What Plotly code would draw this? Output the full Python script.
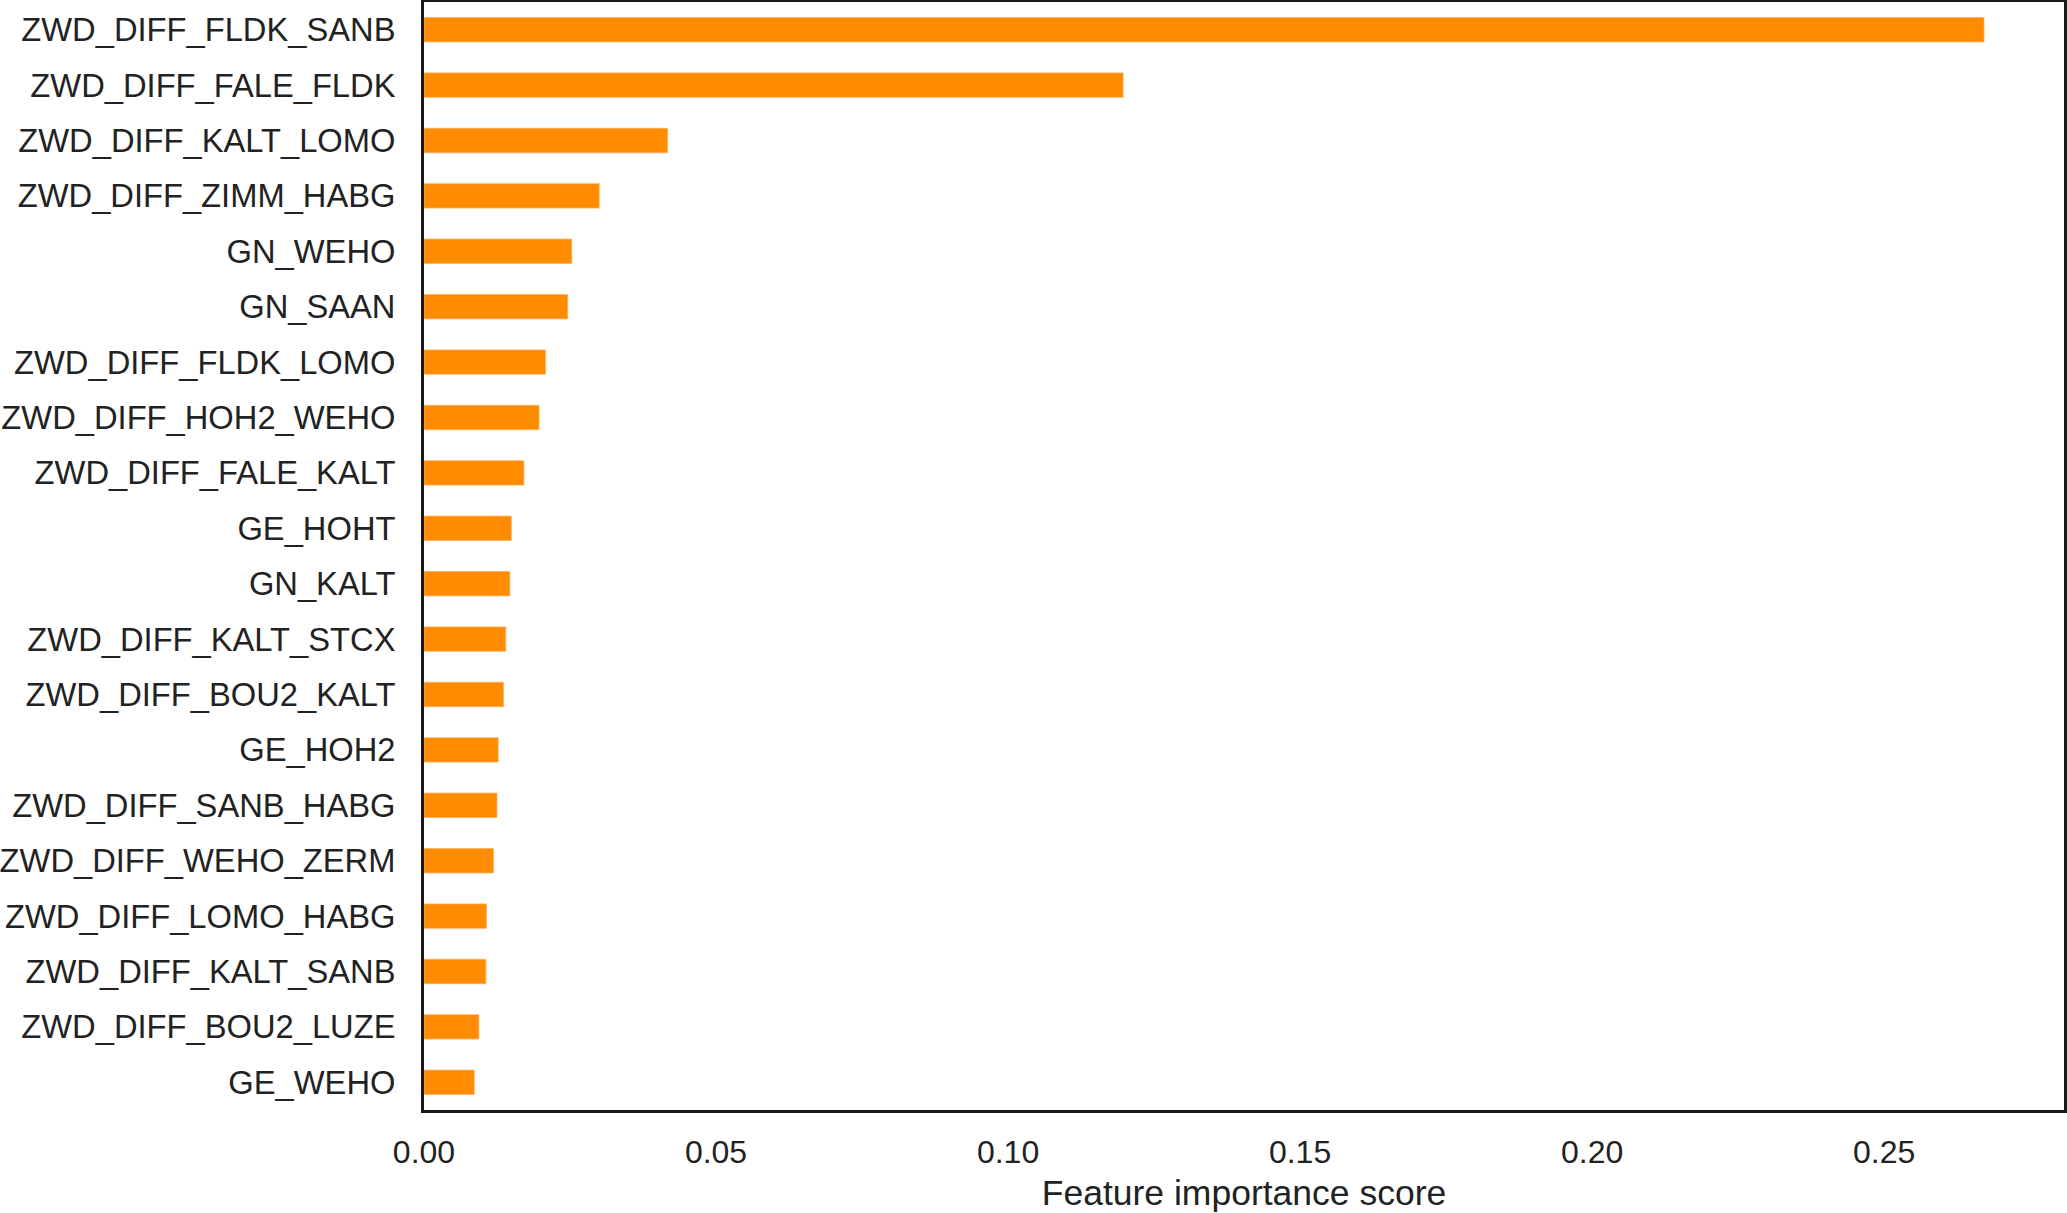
import plotly.graph_objects as go

features = [
    "ZWD_DIFF_FLDK_SANB", "ZWD_DIFF_FALE_FLDK", "ZWD_DIFF_KALT_LOMO", "ZWD_DIFF_ZIMM_HABG",
    "GN_WEHO", "GN_SAAN", "ZWD_DIFF_FLDK_LOMO", "ZWD_DIFF_HOH2_WEHO", "ZWD_DIFF_FALE_KALT",
    "GE_HOHT", "GN_KALT", "ZWD_DIFF_KALT_STCX", "ZWD_DIFF_BOU2_KALT", "GE_HOH2",
    "ZWD_DIFF_SANB_HABG", "ZWD_DIFF_WEHO_ZERM", "ZWD_DIFF_LOMO_HABG", "ZWD_DIFF_KALT_SANB",
    "ZWD_DIFF_BOU2_LUZE", "GE_WEHO",
]
importance = [
    0.2671, 0.1197, 0.0417, 0.0300,
    0.0253, 0.0246, 0.0208, 0.0197, 0.0171,
    0.01495, 0.0147, 0.0140, 0.0136, 0.0127,
    0.0125, 0.0119, 0.0107, 0.0106,
    0.0094, 0.0086,
]
x_ticks = [0.00, 0.05, 0.10, 0.15, 0.20, 0.25]
x_tick_labels = ["0.00", "0.05", "0.10", "0.15", "0.20", "0.25"]

fig = go.Figure(go.Bar(
    x=importance, y=features, orientation="h", width=0.44,
    marker=dict(color="#FF8C00", line=dict(color="#FFB060", width=0.8)),
))

family = "Liberation Sans, Arial, sans-serif"
font = dict(family=family, size=32, color="#222222")
yfont = dict(family=family, size=32.7, color="#222222")
tfont = dict(family=family, size=35.5, color="#222222")

fig.update_layout(
    width=2067, height=1213,
    margin=dict(l=424, r=3, t=2, b=103),
    paper_bgcolor="white", plot_bgcolor="white",
    font=font, showlegend=False,
    xaxis=dict(
        range=[0, 0.2808], tickvals=x_ticks, ticktext=x_tick_labels,
        showgrid=False, zeroline=False, showline=True, mirror=True,
        linecolor="#1a1a1a", linewidth=3, ticks="", ticklabelstandoff=12,
        automargin=False, tickfont=font,
        title=dict(text="Feature importance score", font=tfont, standoff=11),
    ),
    yaxis=dict(
        type="category", categoryorder="array", categoryarray=features,
        range=[19.5, -0.5], automargin=False, tickfont=yfont,
        showgrid=False, zeroline=False, showline=True, mirror=True,
        linecolor="#1a1a1a", linewidth=3, ticks="", ticklabelstandoff=19,
    ),
)

fig.write_html(
    "out.html",
    config={"displayModeBar": False},
    post_script="document.body.style.margin='0px';document.body.style.overflow='hidden';",
)
